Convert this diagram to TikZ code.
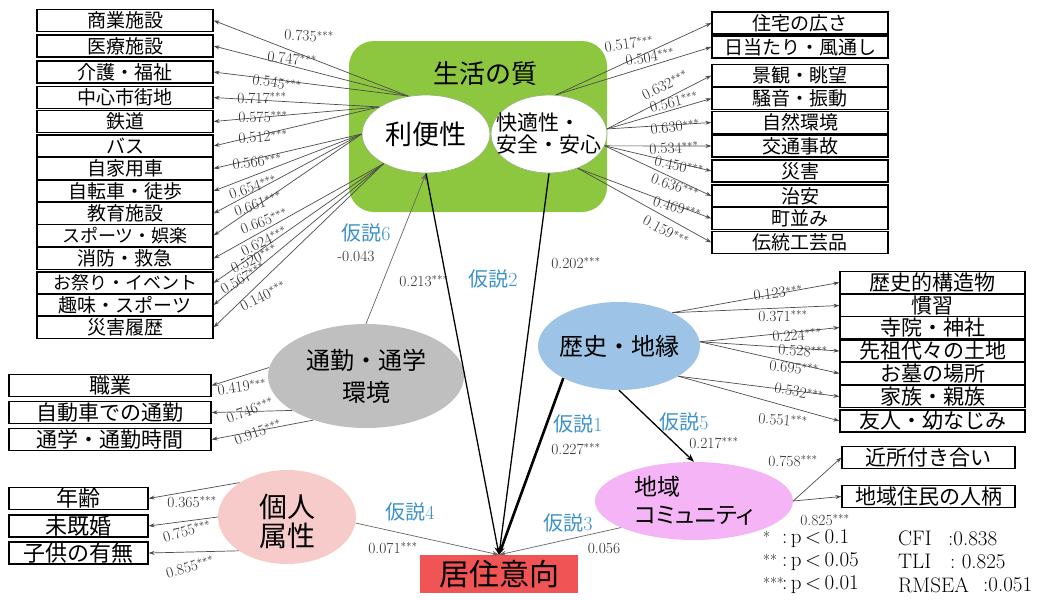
\documentclass[tikz,border=0pt]{standalone}
\usepackage{fontspec}
\newfontfamily\jp{Noto Sans CJK JP}
\newfontfamily\jpp[RawFeature=+palt]{Noto Sans CJK JP}
\usetikzlibrary{arrows.meta,shapes.geometric}
\definecolor{qgreen}{RGB}{141,198,63}
\definecolor{qedge}{RGB}{150,185,120}
\definecolor{hblue}{RGB}{157,195,230}
\definecolor{tgray}{RGB}{191,191,191}
\definecolor{ppink}{RGB}{248,203,203}
\definecolor{cpink}{RGB}{245,180,245}
\definecolor{rred}{RGB}{240,84,84}
\definecolor{hypc}{RGB}{60,145,200}
\definecolor{numc}{RGB}{45,45,45}
\begin{document}
\begin{tikzpicture}[x=1pt,y=-1pt,
  lbox/.style={draw=black, line width=1.2pt, fill=white, inner sep=0pt, minimum height=22pt, font=\jp\fontsize{19}{19}\selectfont},
  lead/.style={draw=black!70, line width=0.7pt, -{Stealth[length=6pt,width=4pt]}},
  main/.style={draw=black, line width=1.3pt, -{Stealth[length=8pt,width=6pt]}},
  weak/.style={draw=black!60, line width=0.7pt, -{Stealth[length=7pt,width=5pt]}},
  num/.style={text=numc, font=\fontsize{15.5}{15.5}\selectfont, inner sep=0pt},
  hyp/.style={text=hypc, font=\fontsize{20}{20}\selectfont, inner sep=0pt},
  ell/.style={ellipse, inner sep=0pt},
  leg/.style={font=\fontsize{21}{21}\selectfont, inner sep=0pt, anchor=west},
  star/.style={font=\fontsize{15}{15}\selectfont, inner sep=0pt, anchor=west},
]
\useasboundingbox (0,0) rectangle (1053,600);

% quality of life box
\node[fill=qgreen, rounded corners=25pt, minimum width=258pt, minimum height=171pt] (G) at (478,126.5) {};
\node[font=\jp\fontsize{26}{26}\selectfont, inner sep=0pt] (gt) at (485,74) {生活の質};

% latent ellipses
\node[ell, fill=white, draw=qedge, line width=0.8pt, minimum width=128pt, minimum height=78pt,
  label={[font=\jp\fontsize{27}{27}\selectfont]center:利便性}] (ri) at (426,134) {};
\node[ell, fill=white, draw=qedge, line width=0.8pt, minimum width=116pt, minimum height=78pt,
  label={[align=left, font=\jp\fontsize{21}{22}\selectfont]center:{快適性・\\安全・安心}}] (k) at (549,134) {};
\node[ell, fill=hblue, minimum width=162pt, minimum height=88pt,
  label={[font=\jp\fontsize{24}{24}\selectfont]center:歴史・地縁}] (h) at (619,346) {};
\node[ell, fill=tgray, minimum width=196pt, minimum height=104pt,
  label={[align=center, font=\jp\fontsize{24}{32}\selectfont]center:{通勤・通学\\環境}}] (t) at (366,376) {};
\node[ell, fill=ppink, minimum width=138pt, minimum height=94pt,
  label={[align=center, yshift=-4pt, font=\jp\fontsize{28}{29}\selectfont]center:{個人\\属性}}] (p) at (287,517) {};
\node[ell, fill=cpink, minimum width=198pt, minimum height=78pt,
  label={[align=left, font=\jpp\fontsize{23}{28}\selectfont]center:{地域\\コミュニティ}}] (c) at (694,501) {};
\node[fill=rred, inner sep=0pt, minimum width=158pt, minimum height=38pt,
  font=\jp\fontsize{30}{30}\selectfont] (r) at (499,574) {居住意向};

% left list (convenience)
\foreach \i/\y/\t in {1/20.5/商業施設, 2/46/医療施設, 3/72/介護・福祉, 4/97.5/中心市街地, 5/121.5/鉄道,
  6/146/バス, 7/168.5/自家用車, 8/191/自転車・徒歩, 9/213.5/教育施設, 11/258.5/消防・救急,
  13/305/趣味・スポーツ, 14/327.5/災害履歴}
  \node[lbox, minimum width=176pt] (L\i) at (125,\y) {\t};
\node[lbox, minimum width=176pt, font=\jp\fontsize{18}{18}\selectfont] (L10) at (125,235.5) {スポーツ・娯楽};
\node[lbox, minimum width=176pt, font=\jp\fontsize{18}{18}\selectfont] (L12) at (125,283) {お祭り・イベント};
\foreach \i/\a in {1/115,2/115,3/115,4/150,5/150,6/150,7/180,8/180,9/180,10/180,11/215,12/215,13/215,14/215}
  \draw[lead] (ri.\a) -- (L\i.east);
\foreach \n/\x/\y/\r/\v in {l1/309/36/-3/0.735, l2/292/59/-5/0.747, l3/277/83/-9/0.545, l4/262/98/0/0.717,
  l5/263/117/2/0.575, l6/263/137/4/0.512, l7/257/162/6/0.566, l8/253/187/18/0.654, l9/258/204/19/0.661,
  l10/264/221/21/0.665, l11/264/241/26/0.624, l12/254/259/25/0.520, l13/243/278/30/0.567, l14/263/296/27/0.140}
  \node[num, rotate=\r] (\n) at (\x,\y) {\v$^{***}$};

% right top list (comfort, safety)
\foreach \i/\y/\t in {1/23/住宅の広さ, 2/47/日当たり・風通し, 3/75.5/景観・眺望, 4/98.5/騒音・振動, 5/122.5/自然環境,
  6/146/交通事故, 7/171/災害, 8/196/治安, 9/218.5/町並み, 10/242.5/伝統工芸品}
  \node[lbox, minimum width=176pt] (R\i) at (800,\y) {\t};
\foreach \i/\a in {1/80,2/80,3/5,4/5,5/5,6/-12,7/-12,8/-12,9/-50,10/-50}
  \draw[lead] (k.\a) -- (R\i.west);
\foreach \n/\x/\y/\r/\v in {m1/629/44/8/0.517, m2/650/57/9/0.504, m3/665/85/26/0.632, m4/674/102/14/0.561,
  m5/675/127/6/0.630, m6/674/148/3/0.534, m7/679/166/-12/0.450, m8/675/186/-20/0.636,
  m9/677/208/-18/0.469, m10/666/231/-28/0.159}
  \node[num, rotate=\r] (\n) at (\x,\y) {\v$^{***}$};

% history list
\foreach \i/\y/\t in {1/282.5/歴史的構造物, 2/305.5/慣習, 3/327.5/寺院・神社, 4/351/先祖代々の土地,
  5/373.5/お墓の場所, 6/396.5/家族・親族, 7/421/友人・幼なじみ}
  \node[lbox, minimum width=185pt, font=\jp\fontsize{21}{21}\selectfont] (H\i) at (932.5,\y) {\t};
\foreach \i/\a in {1/32,2/32,3/3,4/3,5/3,6/-27,7/-27}
  \draw[lead] (h.\a) -- (H\i.west);
\foreach \n/\x/\y/\r/\v in {g1/778/293/6/0.123, g2/783/316/0/0.371, g3/797/335/4/0.224, g4/803/351/-3/0.528,
  g5/794/368/-5/0.695, g6/799/392/-10/0.532, g7/783/420/-4/0.551}
  \node[num, rotate=\r] (\n) at (\x,\y) {\v$^{***}$};

% community list
\node[lbox, minimum width=173pt, font=\jp\fontsize{21}{21}\selectfont] (C1) at (928.5,457.5) {近所付き合い};
\node[lbox, minimum width=173pt, font=\jp\fontsize{21}{21}\selectfont] (C2) at (928.5,496.5) {地域住民の人柄};
\draw[lead] (c.east) -- (C1.west);
\draw[lead] (c.east) -- (C2.west);
\node[num] (cn1) at (793,461) {0.758$^{***}$};
\node[num] (cn2) at (825,520) {0.825$^{***}$};

% commuting list
\foreach \i/\y/\t in {1/385.5/職業, 2/412.5/自動車での通勤, 3/439.5/通学・通勤時間}
  \node[lbox, minimum width=202pt, font=\jp\fontsize{21}{21}\selectfont] (T\i) at (110,\y) {\t};
\foreach \i/\a in {1/175,2/205,3/220}
  \draw[lead] (t.\a) -- (T\i.east);
\foreach \n/\x/\y/\r/\v in {tn1/242/387/8/0.419, tn2/250/410/20/0.746, tn3/258/432/20/0.915}
  \node[num, rotate=\r] (\n) at (\x,\y) {\v$^{***}$};

% personal list
\foreach \i/\y/\t in {1/498.5/年齢, 2/526/未既婚, 3/553/子供の有無}
  \node[lbox, minimum width=139pt, font=\jp\fontsize{22}{22}\selectfont] (P\i) at (78.5,\y) {\t};
\foreach \i/\a in {1/144,2/180,3/215}
  \draw[lead] (p.\a) -- (P\i.east);
\foreach \n/\x/\y/\r/\v in {pn1/192/502/0/0.365, pn2/187/531/15/0.755, pn3/190/567/15/0.855}
  \node[num, rotate=\r] (\n) at (\x,\y) {\v$^{***}$};

% structural paths
\draw[weak] (t.north) -- (ri.south);
\draw[main] (ri.south) -- (r.north);
\draw[main] (k.south) -- (r.north);
\draw[main, line width=2.6pt] (h.210) -- (r.north);
\draw[main] (h.south) -- (c.north);
\draw[weak] (c.200) -- (r.north);
\draw[weak] (p.-5) -- (r.north);

% hypothesis labels and coefficients
\node[hyp] (hy6) at (366,233) {{\jp 仮説}6};
\node[num] (v6) at (356,256) {-0.043};
\node[num] (v2a) at (424,281) {0.213$^{***}$};
\node[hyp] (hy2) at (493,279) {{\jp 仮説}2};
\node[num] (v2b) at (576,263) {0.202$^{***}$};
\node[hyp] (hy1) at (578,424) {{\jp 仮説}1};
\node[num] (v1) at (576,449) {0.227$^{***}$};
\node[hyp] (hy5) at (684,422) {{\jp 仮説}5};
\node[num] (v5) at (714,443) {0.217$^{***}$};
\node[hyp] (hy4) at (410,512) {{\jp 仮説}4};
\node[num] (v4) at (393,548) {0.071$^{***}$};
\node[hyp] (hy3) at (568,523) {{\jp 仮説}3};
\node[num] (v3) at (604,548) {0.056};

% legend
\node[star] (s1) at (763,537) {*};
\node[star] (s2) at (763,560) {**};
\node[star] (s3) at (763,583) {***};
\node[leg] (p1) at (782,538.5) {:\,p\,<\,0.1};
\node[leg] (p2) at (782,561.5) {:\,p\,<\,0.05};
\node[leg] (p3) at (782,585) {:\,p\,<\,0.01};
\node[leg] (f1) at (898,538.5) {CFI};
\node[leg] (f2) at (898,561.5) {TLI};
\node[leg] (f3) at (898,585) {RMSEA};
\node[leg] (e1) at (948,538.5) {:0.838};
\node[leg] (e2) at (950,561.5) {:\ 0.825};
\node[leg] (e3) at (983,585) {:0.051};
\end{tikzpicture}
\end{document}
